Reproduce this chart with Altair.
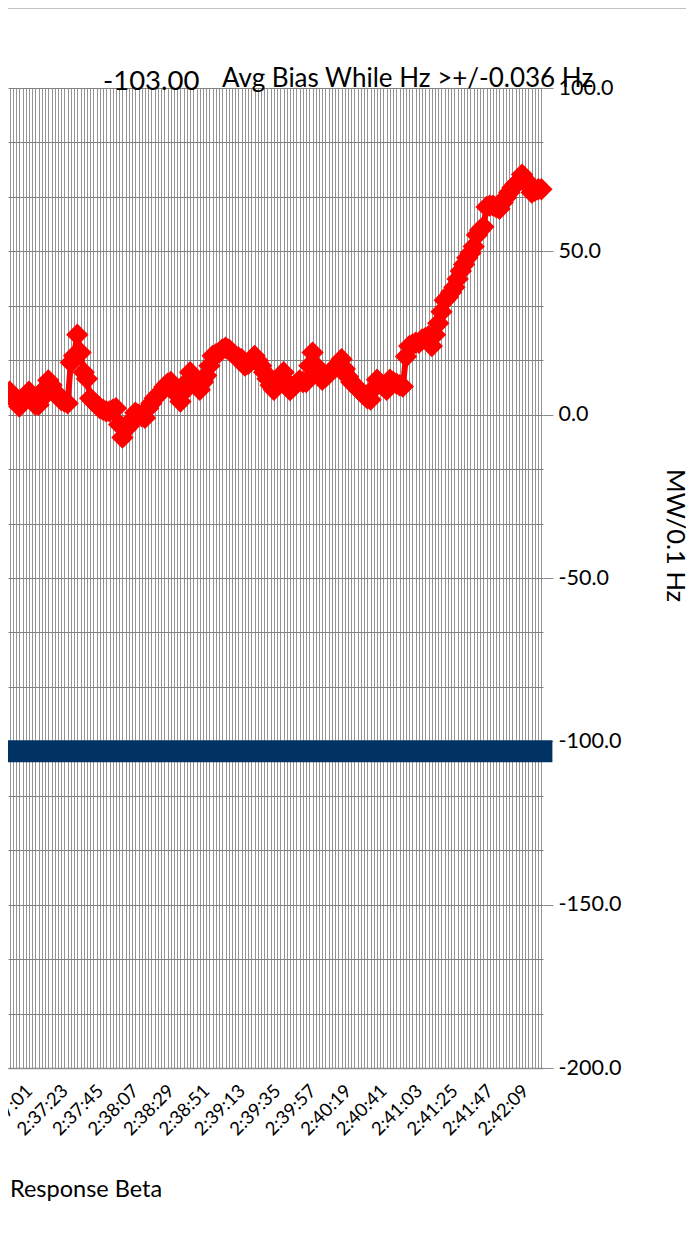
import altair as alt
import pandas as pd
from datetime import datetime, timedelta

# ---- data ----
START = "2:36:53"          # first category
STEP_S = 2                 # seconds between categories
RED = [7, 6, 4, 2.5, 4, 6, 7, 5, 3, 3,
       5, 8, 10.5, 9, 7, 6, 4.5, 4, 3.5, 16,
       18, 24.5, 19, 13, 11, 5, 4, 3, 2, 1.5,
       1, 1, 1.5, 2, -3, -7, -4.5, -3.5, -1.5, 0.6,
       0, -0.5, -1, 2, 3.5, 5, 6, 7, 8.5, 9.5,
       10, 8, 6, 4, 7, 10, 13, 11.5, 9, 7.6,
       10, 12, 15, 18, 18.5, 19, 20, 20.5, 20, 19,
       18, 17.5, 17, 15, 15.5, 16.5, 18, 16.5, 15, 13,
       11, 9, 7.6, 9.5, 11.5, 13, 10, 7.5, 8.5, 9.5,
       10.5, 10, 10, 15, 19, 15, 12, 10.7, 11.5, 12.5,
       13.5, 14.5, 15.5, 17, 14, 11.6, 10, 9, 8, 7,
       6, 5, 4.6, 8, 10.7, 9.5, 8.5, 7.6, 10.7, 10,
       9.5, 9, 8.6, 17.8, 21, 21.5, 22, 22, 23, 23.5,
       24, 21, 24.5, 28, 31.5, 35, 36, 37.5, 39, 41.5,
       44, 46, 48, 49.5, 51.5, 55, 56.5, 57.5, 63.6, 64,
       64, 63.5, 63, 65, 66.5, 68, 69.5, 70.5, 71.5, 73.5,
       72, 70, 68, 68.5, 69, 69]
BIAS = -103.0
X_LABELS = ["2:37:01", "2:37:23", "2:37:45", "2:38:07", "2:38:29", "2:38:51",
            "2:39:13", "2:39:35", "2:39:57", "2:40:19", "2:40:41", "2:41:03",
            "2:41:25", "2:41:47", "2:42:09"]
Y_LABELS = [100, 50, 0, -50, -100, -150, -200]
Y_GRID = [round(100 - k * 50 / 3, 6) for k in range(19)]
TITLE = "Avg Bias While Hz >+/-0.036 Hz"
Y_TITLE = "MW/0.1 Hz"
FOOT = "Response Beta"

FONT = "Lato"
t0 = datetime.strptime(START, "%H:%M:%S")
cats = []
for i in range(len(RED)):
    t = t0 + timedelta(seconds=STEP_S * i)
    cats.append(f"{t.hour}:{t.minute:02d}:{t.second:02d}")

df = pd.DataFrame({"time": cats, "mw": RED, "bias": [BIAS] * len(RED)})

label_list = ",".join(f"'{s}'" for s in X_LABELS)
xdef = alt.X(
    "time:N", sort=cats,
    scale=alt.Scale(type="point", padding=0.5),
    axis=alt.Axis(
        title=None, labelAngle=-45, labelAlign="right", labelBaseline="top",
        labelFont=FONT, labelFontSize=18.5, labelColor="black", labelPadding=13,
        labelExpr=f"indexof([{label_list}], datum.value) >= 0 ? datum.value : ''",
        labelOverlap=False, labelBound=False, ticks=False,
        grid=True, gridColor="#959595", gridWidth=1,
        domainColor="#8c8c8c", domainWidth=1.5,
    ),
)

major_test = "abs(datum.value % 50) < 0.01"


def ydef(field):
    return alt.Y(
        f"{field}:Q",
        scale=alt.Scale(domain=[-200, 100], nice=False, zero=False),
        axis=alt.Axis(
            orient="right", values=Y_GRID,
            labelExpr=(f"{major_test} ? replace(format(datum.value, '.1f'), '\u2212', '-') : ''"),
            labelFont=FONT, labelFontSize=21.5, labelColor="black", labelPadding=5,
            labelOverlap=False,
            tickSize=10, tickColor="#8c8c8c",
            tickOpacity={"condition": {"test": major_test, "value": 1}, "value": 0},
            domain=False, grid=True, gridColor="#808080", gridWidth=1,
            title=Y_TITLE, titleFont=FONT, titleFontSize=25.5, titleFontWeight="normal",
            titleColor="black", titleAngle=90, titleX=131, titleY=447,
            titleAlign="center", titleBaseline="middle",
        ),
    )


base = alt.Chart(df)
bias_line = base.mark_line(color="#003263", strokeWidth=22, strokeCap="square").encode(
    x=xdef, y=ydef("bias"))
red_line = base.mark_line(color="#ff0000", strokeWidth=6).encode(x=xdef, y=ydef("mw"))
red_pts = base.mark_point(shape="diamond", filled=True, size=500, color="#ff0000",
                          opacity=1).encode(x=xdef, y=ydef("mw"))

txt = pd.DataFrame({"bias_txt": [f"{BIAS:.2f}"], "title": [TITLE], "foot": [FOOT]})
tb = alt.Chart(txt)
bias_text = tb.mark_text(font=FONT, fontSize=27.5, align="left", baseline="alphabetic",
                         color="black").encode(
    x=alt.value(95), y=alt.value(2), text="bias_txt:N")
title_text = tb.mark_text(font=FONT, fontSize=26, align="left", baseline="alphabetic",
                          color="black").encode(
    x=alt.value(214), y=alt.value(-1), text="title:N")
foot_text = tb.mark_text(font=FONT, fontSize=23.5, align="left", baseline="middle",
                         color="black").encode(
    x=alt.value(2), y=alt.value(1102), text="foot:N")
top_rule = tb.mark_rule(color="#c0c0c0", strokeWidth=1).encode(
    x=alt.value(-3), x2=alt.value(680), y=alt.value(-79.5))

chart = alt.layer(
    bias_line, red_line, red_pts, bias_text, title_text, foot_text, top_rule
).properties(
    width=535, height=980,
    padding={"left": 0, "top": 80, "right": 143, "bottom": 150},
    autosize=alt.AutoSizeParams(type="none"),
).configure_view(stroke=None)

chart.save("out.html", embed_options={"renderer": "svg", "actions": False})
